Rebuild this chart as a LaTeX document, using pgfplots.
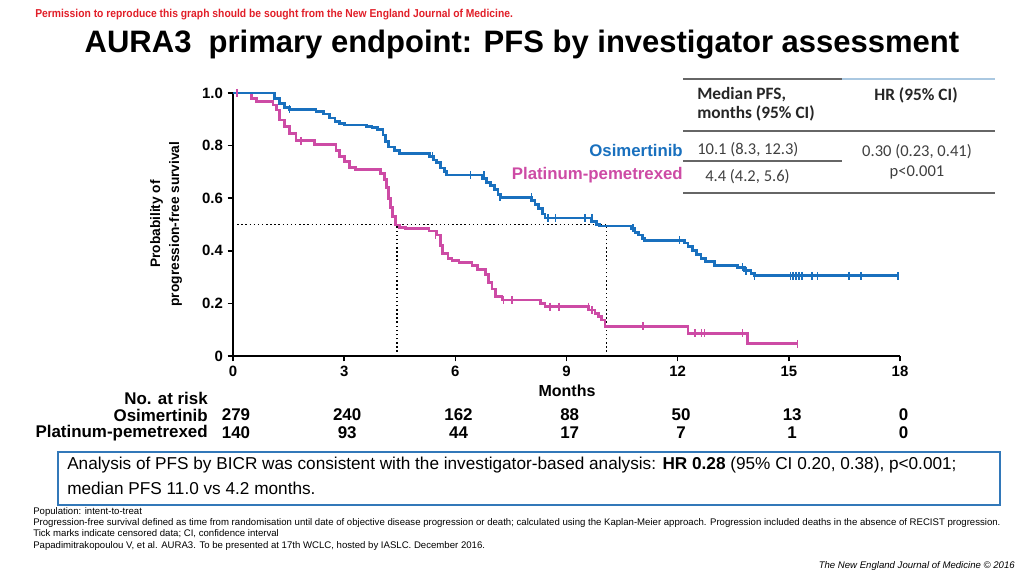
\documentclass[border=0pt]{standalone}
\usepackage{fontspec}
\setmainfont{Liberation Sans}
\newfontfamily\carlito{Carlito}
\usepackage{graphicx}
\usepackage{pgfplots}
\pgfplotsset{compat=1.18}
\definecolor{osi}{RGB}{25,112,190}
\definecolor{pla}{RGB}{205,75,165}
\definecolor{boxblue}{RGB}{50,120,185}
\definecolor{tgray}{RGB}{64,64,64}
\definecolor{lblue}{RGB}{170,200,225}
\definecolor{redn}{RGB}{225,30,40}
\newcommand{\fs}[2]{\fontsize{#1}{#2}\selectfont}
\begin{document}
\begin{tikzpicture}[x=0.75pt,y=0.75pt]
\useasboundingbox (0,0) rectangle (1033,578);
\begin{axis}[
  at={(174.75pt,166.5pt)}, anchor=south west,
  width=500.25pt, height=197.25pt, scale only axis,
  xmin=0, xmax=18, ymin=0, ymax=1,
  axis x line*=bottom, axis y line*=left,
  axis line style={line width=1.4pt, -},
  xtick={0,3,6,9,12,15,18},
  ytick={0,0.2,0.4,0.6,0.8,1},
  yticklabels={0,0.2,0.4,0.6,0.8,1.0},
  tick align=outside, major tick length=4pt,
  tick style={line width=1.2pt, black},
  ticklabel style={font=\fs{11.2}{12}\bfseries},
  /pgf/number format/assume math mode=true,
  clip=false,
]
% median guide lines
\addplot[black, dotted, line width=1.1pt] coordinates {(0,0.5) (10.08,0.5)};
\addplot[black, dotted, line width=1.1pt] coordinates {(4.42,0) (4.42,0.5)};
\addplot[black, dotted, line width=1.1pt] coordinates {(10.08,0) (10.08,0.5)};
% Platinum-pemetrexed
\addplot[pla, line width=2.1pt, const plot] coordinates {
(0,1) (0.49,0.98) (0.63,0.967) (1.08,0.954) (1.17,0.935) (1.26,0.897) (1.39,0.872)
(1.52,0.847) (1.7,0.818) (2.2,0.805) (2.78,0.78) (2.87,0.758) (3.0,0.739) (3.14,0.717)
(3.3,0.71) (3.99,0.695) (4.08,0.672) (4.14,0.64) (4.19,0.60) (4.24,0.565) (4.3,0.53)
(4.39,0.498) (4.5,0.49) (4.66,0.486) (5.29,0.475) (5.5,0.46) (5.6,0.42) (5.65,0.39)
(5.8,0.37) (5.91,0.362) (6.1,0.355) (6.45,0.345) (6.6,0.33) (6.81,0.31) (6.9,0.28)
(6.99,0.255) (7.08,0.226) (7.26,0.213) (8.3,0.20) (8.42,0.188) (9.59,0.175) (9.77,0.162)
(9.86,0.15) (9.95,0.137) (10.04,0.113) (12.28,0.087) (13.88,0.046) (15.23,0.046)};
\addplot[only marks, mark=|, mark size=3pt, mark options={pla, line width=1.2pt}] coordinates {
(0.1,1) (1.84,0.818) (5.47,0.46) (7.3,0.213) (7.53,0.213) (8.56,0.188) (8.79,0.188)
(9.59,0.188) (9.68,0.175) (11.07,0.113) (12.46,0.087) (12.64,0.087) (12.72,0.087)
(13.75,0.087) (15.23,0.046)};
% Osimertinib
\addplot[osi, line width=2.1pt, const plot] coordinates {
(0,1) (1.12,0.98) (1.25,0.96) (1.40,0.945) (1.52,0.938) (2.24,0.93) (2.45,0.92)
(2.6,0.905) (2.75,0.893) (2.87,0.885) (3.0,0.878) (3.6,0.874) (3.75,0.868) (3.9,0.862)
(4.05,0.84) (4.12,0.815) (4.2,0.795) (4.35,0.78) (4.5,0.771) (5.3,0.76) (5.4,0.745)
(5.5,0.735) (5.6,0.715) (5.7,0.70) (5.76,0.688) (6.72,0.675) (6.85,0.66) (6.95,0.648)
(7.05,0.633) (7.15,0.615) (7.22,0.603) (8.06,0.59) (8.15,0.575) (8.24,0.562)
(8.35,0.54) (8.42,0.525) (9.68,0.512) (9.8,0.50) (9.9,0.494) (10.75,0.485)
(10.85,0.47) (10.95,0.46) (11.05,0.447) (11.11,0.44) (12.19,0.43) (12.28,0.415)
(12.4,0.40) (12.5,0.385) (12.63,0.37) (12.75,0.36) (13.0,0.345) (13.62,0.337)
(13.8,0.325) (13.98,0.315) (14.07,0.305) (17.95,0.305)};
\addplot[only marks, mark=|, mark size=3pt, mark options={osi, line width=1.2pt}] coordinates {
(1.52,0.938) (5.38,0.76) (6.41,0.688) (6.77,0.688) (7.2,0.603) (8.06,0.603) (8.5,0.525)
(8.7,0.525) (9.5,0.525) (9.68,0.525) (10.8,0.485) (12.05,0.44) (13.75,0.337) (13.85,0.325)
(14.07,0.305) (15.05,0.305) (15.12,0.305) (15.19,0.305) (15.28,0.305) (15.36,0.305)
(15.63,0.305) (15.77,0.305) (16.62,0.305) (16.94,0.305) (17.95,0.305)};
\end{axis}
% top note and title
\node[anchor=west, text=redn, inner sep=0] at (35,563) {\scalebox{0.9}[1]{\fs{8.6}{9}\bfseries Permission to reproduce this graph should be sought from the New England Journal of Medicine.}};
\node[inner sep=0] at (522,533) {\fs{23.25}{26}\bfseries AURA3\ \ primary endpoint: PFS by investigator assessment};
% axis labels
\node[rotate=90, align=center, inner sep=0, font=\fs{10.3}{14.25}\bfseries] at (166,354) {Probability of\\progression-free survival};
\node[inner sep=0] at (567,187) {\fs{12}{14}\bfseries Months};
% table of medians
\draw[tgray!80, line width=1.1pt] (683,499) -- (842,499);
\draw[lblue, line width=1.1pt] (842,499) -- (995,499);
\draw[tgray!80, line width=1.1pt] (683,447) -- (995,447);
\draw[tgray!80, line width=1.1pt] (683,417) -- (842,417);
\draw[tgray!80, line width=1.1pt] (683,385) -- (995,385);
\node[anchor=west, inner sep=0, text=black!85] at (697,483) {\carlito\fs{13}{15}\bfseries Median PFS,};
\node[anchor=west, inner sep=0, text=black!85] at (697,465) {\carlito\fs{13}{15}\bfseries months (95\% CI)};
\node[inner sep=0, text=black!85] at (916,483) {\carlito\fs{13}{15}\bfseries HR (95\% CI)};
\node[anchor=west, inner sep=0, text=tgray] at (697,428) {\carlito\fs{12.4}{14}10.1 (8.3, 12.3)};
\node[anchor=west, inner sep=0, text=tgray] at (705,401) {\carlito\fs{12.4}{14}4.4 (4.2, 5.6)};
\node[inner sep=0, text=tgray] at (917,426) {\carlito\fs{12.4}{14}0.30 (0.23, 0.41)};
\node[inner sep=0, text=tgray] at (917,406) {\carlito\fs{12.4}{14}p<0.001};
\node[anchor=east, inner sep=0, text=osi] at (683,427) {\fs{12.6}{14}\bfseries Osimertinib};
\node[anchor=east, inner sep=0, text=pla] at (683,403) {\fs{12.6}{14}\bfseries Platinum-pemetrexed};
% number at risk
\node[anchor=east, inner sep=0] at (208,180) {\fs{12.7}{14}\bfseries No. at risk};
\node[anchor=east, inner sep=0] at (208,163) {\fs{12.7}{14}\bfseries Osimertinib};
\node[anchor=east, inner sep=0] at (208,145) {\fs{12.7}{14}\bfseries Platinum-pemetrexed};
\foreach \xx/\a/\b in {233/279/140, 344.2/240/93, 455.5/162/44, 566.7/88/17, 678/50/7, 789.2/13/1, 900.5/0/0}{
  \node[inner sep=0] at (\xx+3,163) {\fs{12.7}{14}\bfseries \a};
  \node[inner sep=0] at (\xx+3,145) {\fs{12.7}{14}\bfseries \b};
}
% BICR box
\draw[boxblue, line width=1.3pt] (58,126) rectangle (1000,73);
\node[anchor=west, align=left, inner sep=0, font=\fs{12.9}{18.75}] at (67,102) {Analysis of PFS by BICR was consistent with the investigator-based analysis: \textbf{HR 0.28} (95\% CI 0.20, 0.38), p<0.001;\\median PFS 11.0 vs 4.2 months.};
% footnotes
\node[anchor=west, inner sep=0] at (33,66) {\fs{7.2}{8}Population: intent-to-treat};
\node[anchor=west, inner sep=0] at (33,55) {\fs{7.2}{8}Progression-free survival defined as time from randomisation until date of objective disease progression or death; calculated using the Kaplan-Meier approach. Progression included deaths in the absence of RECIST progression.};
\node[anchor=west, inner sep=0] at (33,44) {\fs{7.2}{8}Tick marks indicate censored data; CI, confidence interval};
\node[anchor=west, inner sep=0] at (33,32) {\fs{7.2}{8}Papadimitrakopoulou V, et al. AURA3. To be presented at 17th WCLC, hosted by IASLC. December 2016.};
\node[anchor=east, inner sep=0] at (1015,12) {\fs{7.2}{8}\itshape The New England Journal of Medicine \textcopyright\ 2016};
\end{tikzpicture}
\end{document}
